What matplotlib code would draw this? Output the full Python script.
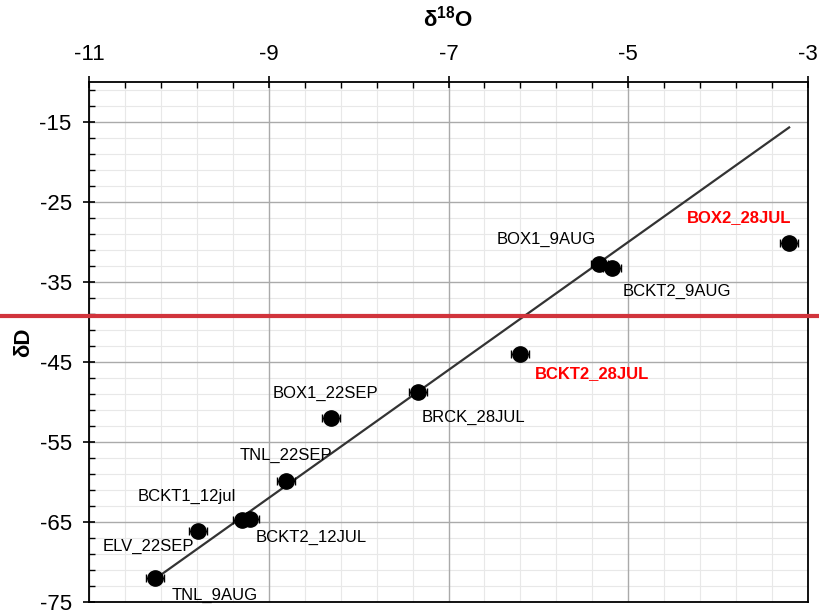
import numpy as np
import matplotlib
matplotlib.use("Agg")
import matplotlib.pyplot as plt
from matplotlib.transforms import blended_transform_factory

plt.rcParams['font.family'] = ['Liberation Sans', 'DejaVu Sans']
plt.rcParams['axes.unicode_minus'] = False
plt.rcParams['mathtext.fontset'] = 'custom'
plt.rcParams['mathtext.rm'] = 'Liberation Sans'
plt.rcParams['mathtext.bf'] = 'Liberation Sans:bold'

# samples
names = ["TNL_9AUG", "ELV_22SEP", "BCKT1_12jul", "BCKT2_12JUL", "TNL_22SEP",
         "BOX1_22SEP", "BRCK_28JUL", "BCKT2_28JUL", "BOX1_9AUG", "BCKT2_9AUG",
         "BOX2_28JUL"]
d18o = [-10.27, -9.79, -9.30, -9.21, -8.81, -8.31, -7.34, -6.20, -5.32, -5.18, -3.21]
dD = [-72.0, -66.1, -64.75, -64.6, -59.9, -52.0, -48.75, -44.0, -32.75, -33.25, -30.1]
d18o_err = [0.1] * len(names)
dD_err = [0.5] * len(names)
highlight = ["BCKT2_28JUL", "BOX2_28JUL"]

# meteoric water line
gmwl_slope = 8.0
gmwl_icpt = 10.0
cutoff = -39.25

# label offsets in pixels (dx, dy, ha)
offsets = {
    "TNL_9AUG": (17, -17, "left"),
    "ELV_22SEP": (-4, -16, "right"),
    "BCKT1_12jul": (-6, 24, "right"),
    "BCKT2_12JUL": (6, -19, "left"),
    "TNL_22SEP": (0, 26, "center"),
    "BOX1_22SEP": (-5, 25, "center"),
    "BRCK_28JUL": (4, -25, "left"),
    "BCKT2_28JUL": (14, -20, "left"),
    "BOX1_9AUG": (-4, 25, "right"),
    "BCKT2_9AUG": (11, -23, "left"),
    "BOX2_28JUL": (-102, 25, "left"),
}

fig = plt.figure(figsize=(8.19, 6.11), dpi=100)
ax = fig.add_axes([89 / 819, 1 - 602 / 611, 719 / 819, 520 / 611])

ax.set_xlim(-11, -3)
ax.set_ylim(-75, -10)
xmaj = np.arange(-11, -2.9, 2)
ymaj = np.arange(-75, -10, 10)
xmin_t = [v for v in np.arange(-11, -2.9, 0.4) if np.min(np.abs(xmaj - v)) > 1e-6]
ymin_t = [v for v in np.arange(-75, -9.9, 2) if np.min(np.abs(ymaj - v)) > 1e-6]
ax.set_xticks(xmaj)
ax.set_xticks(xmin_t, minor=True)
ax.set_yticks(ymaj)
ax.set_yticks(ymin_t, minor=True)
ax.xaxis.tick_top()
ax.xaxis.set_label_position("top")

# light minor grid below the major one
for v in xmin_t:
    ax.axvline(v, color="#e8e8e8", lw=0.8, zorder=0.1)
for v in ymin_t:
    ax.axhline(v, color="#e8e8e8", lw=0.8, zorder=0.1)
ax.grid(which="major", color="#aaaaaa", lw=1.0)
ax.set_axisbelow(True)

ax.tick_params(which="major", direction="inout", length=9, width=1.2, labelsize=16, pad=8)
ax.tick_params(which="minor", direction="in", length=4, width=1)
for s in ax.spines.values():
    s.set_linewidth(1.3)

xs = np.array([min(d18o), max(d18o)])
ax.plot(xs, gmwl_slope * xs + gmwl_icpt, color="#333333", lw=1.6, zorder=2)

ax.errorbar(d18o, dD, xerr=d18o_err, yerr=dD_err, fmt="o", color="black",
            ms=11, ecolor="black", elinewidth=0.9, capsize=3, zorder=3)

for n, x, y in zip(names, d18o, dD):
    dx, dy, ha = offsets[n]
    red = n in highlight
    ax.annotate(n, (x, y), xytext=(dx * 0.72, dy * 0.72), textcoords="offset points",
                ha=ha, va="center", fontsize=12,
                color="#ff0000" if red else "black",
                fontweight="bold" if red else "normal")

trans = blended_transform_factory(fig.transFigure, ax.transData)
ax.plot([0, 1], [cutoff, cutoff], color="#d1343c", lw=3, transform=trans,
        clip_on=False, zorder=4)

ax.set_xlabel(r"$\mathbf{\delta^{18}O}$", fontsize=16, labelpad=12)
ax.set_ylabel("δD", fontsize=16, fontweight="bold", labelpad=4)

fig.savefig("out.png", dpi=100)
